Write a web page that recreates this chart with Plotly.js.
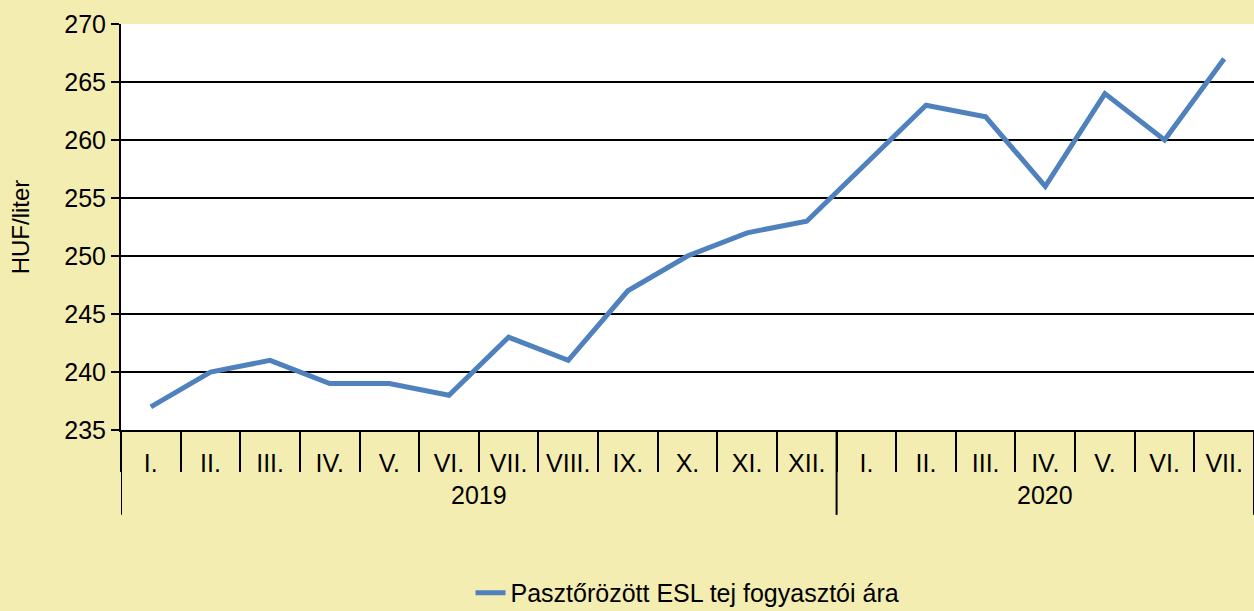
<!DOCTYPE html>
<html>
<head>
<meta charset="utf-8">
<script src="https://cdn.plot.ly/plotly-3.0.1.min.js"></script>
<style>html,body{margin:0;padding:0;background:#F4EDB2;}</style>
</head>
<body>
<div id="chart" style="width:1254px;height:611px;"></div>
<script>
const years = ['2019','2019','2019','2019','2019','2019','2019','2019','2019','2019','2019','2019',
               '2020','2020','2020','2020','2020','2020','2020'];
const months = ['I.','II.','III.','IV.','V.','VI.','VII.','VIII.','IX.','X.','XI.','XII.',
                'I.','II.','III.','IV.','V.','VI.','VII.'];
const prices = [237, 240, 241, 239, 239, 238, 243, 241, 247, 250, 252, 253,
                258, 263, 262, 256, 264, 260, 267];
const seriesName = 'Pasztőrözött ESL tej fogyasztói ára';
const yTitle = 'HUF/liter';

const idx = prices.map((_, i) => i);

// year groups derived from the years array
const groups = [];
years.forEach((y, i) => {
  const g = groups[groups.length - 1];
  if (g && g.year === y) g.end = i; else groups.push({year: y, start: i, end: i});
});

const annotations = groups.map(g => ({
  x: (g.start + g.end) / 2, xref: 'x', y: -0.160, yref: 'paper',
  text: g.year, showarrow: false, xanchor: 'center', yanchor: 'middle',
  font: {size: 25, color: '#000'}
}));
const boundaries = [groups[0].start - 0.5].concat(groups.map(g => g.end + 0.5));
const shapes = boundaries.map(b => ({
  type: 'line', xref: 'x', yref: 'paper', x0: b, x1: b, y0: 0, y1: -0.209,
  line: {color: '#000', width: 2}
}));

const trace = {
  type: 'scatter', mode: 'lines',
  x: idx, y: prices, name: seriesName,
  line: {color: '#4F81BD', width: 5}
};
const layout = {
  width: 1254, height: 611,
  paper_bgcolor: '#F4EDB2', plot_bgcolor: '#FFFFFF',
  margin: {l: 121, r: 0, t: 24, b: 181, autoexpand: false},
  font: {family: 'Liberation Sans, Arial, sans-serif', color: '#000', size: 25},
  showlegend: true,
  legend: {orientation: 'h', x: 0.5, xanchor: 'center', y: -0.458, yanchor: 'bottom',
           font: {size: 25}, bgcolor: 'rgba(0,0,0,0)', borderwidth: 0},
  annotations: annotations,
  shapes: shapes,
  xaxis: {
    range: [-0.5, prices.length - 0.5],
    tickmode: 'array', tickvals: idx, ticktext: months,
    ticks: '', ticklabelstandoff: 10,
    minor: {ticks: 'outside', tick0: 0.5, dtick: 1, ticklen: 40, tickwidth: 2, tickcolor: '#000', showgrid: false},
    showline: true, linecolor: '#000', linewidth: 2,
    showgrid: false, zeroline: false, tickfont: {size: 25}
  },
  yaxis: {
    range: [235, 270], dtick: 5, tick0: 235,
    showline: true, linecolor: '#000', linewidth: 2,
    ticks: 'outside', ticklen: 8, tickwidth: 2, tickcolor: '#000',
    showgrid: true, gridcolor: '#000', gridwidth: 2, zeroline: false,
    tickfont: {size: 25},
    title: {text: yTitle, font: {size: 24}, standoff: 28}
  }
};
Plotly.newPlot('chart', [trace], layout, {displayModeBar: false});
</script>
</body>
</html>
